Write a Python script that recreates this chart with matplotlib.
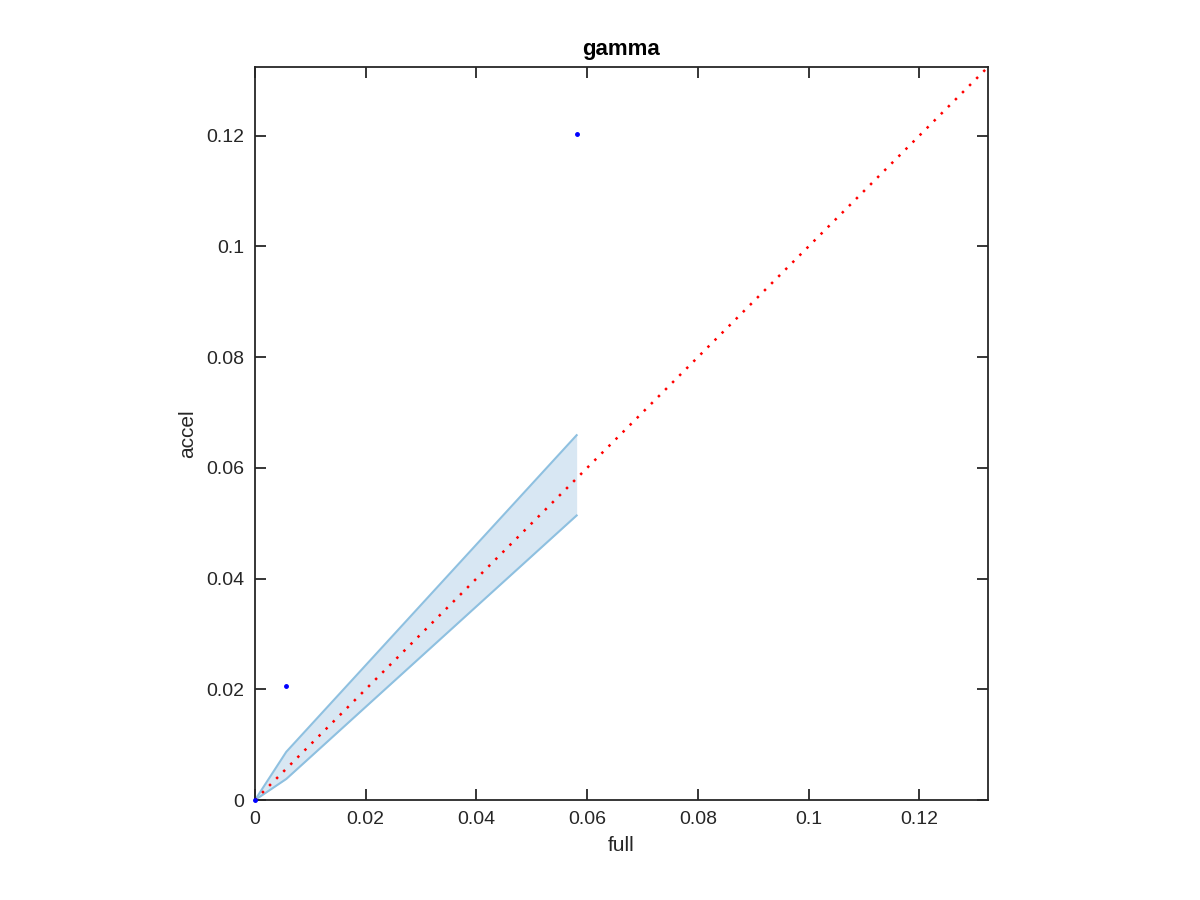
import matplotlib
matplotlib.use('Agg')
from matplotlib import pyplot as plt

plt.rcParams['font.family'] = ['Liberation Sans', 'DejaVu Sans']

# scatter points (full vs accel)
full_vals = [0.0, 0.00565, 0.0581]
accel_vals = [0.0, 0.0206, 0.1203]

# confidence band
band_x = [0.0, 0.00565, 0.0581]
band_low = [0.0, 0.0038, 0.0514]
band_high = [0.0, 0.0087, 0.0659]

lim = 0.1324

fig = plt.figure(figsize=(12, 9), dpi=100)
ax = fig.add_axes([0.2125, 0.1111, 0.6108, 0.8144])

ax.fill_between(band_x, band_low, band_high, color='#d8e7f3', linewidth=0)
ax.plot(band_x, band_low, color='#8ec0e0', linewidth=1.5)
ax.plot(band_x, band_high, color='#8ec0e0', linewidth=1.5)

ax.plot([0, lim], [0, lim], color='red', linestyle=(0, (1, 3)), linewidth=1.8)
ax.plot(full_vals, accel_vals, '.', color='blue', markersize=5, clip_on=False, zorder=5)

ax.set_xlim(0, lim)
ax.set_ylim(0, lim)
ticks = [0, 0.02, 0.04, 0.06, 0.08, 0.1, 0.12]
tick_labels = ['0', '0.02', '0.04', '0.06', '0.08', '0.1', '0.12']
ax.set_xticks(ticks)
ax.set_xticklabels(tick_labels)
ax.set_yticks(ticks)
ax.set_yticklabels(tick_labels)

ax.tick_params(direction='in', length=8, width=1.3, top=True, right=True,
               labelsize=14, colors='#262626', pad=8)
for s in ax.spines.values():
    s.set_linewidth(1.3)
    s.set_color('#262626')

ax.set_title('gamma', fontsize=16, fontweight='bold', pad=9)
ax.set_xlabel('full', fontsize=15, color='#262626', labelpad=6)
ax.set_ylabel('accel', fontsize=15, color='#262626', labelpad=6)

fig.savefig('out.png', dpi=100)
